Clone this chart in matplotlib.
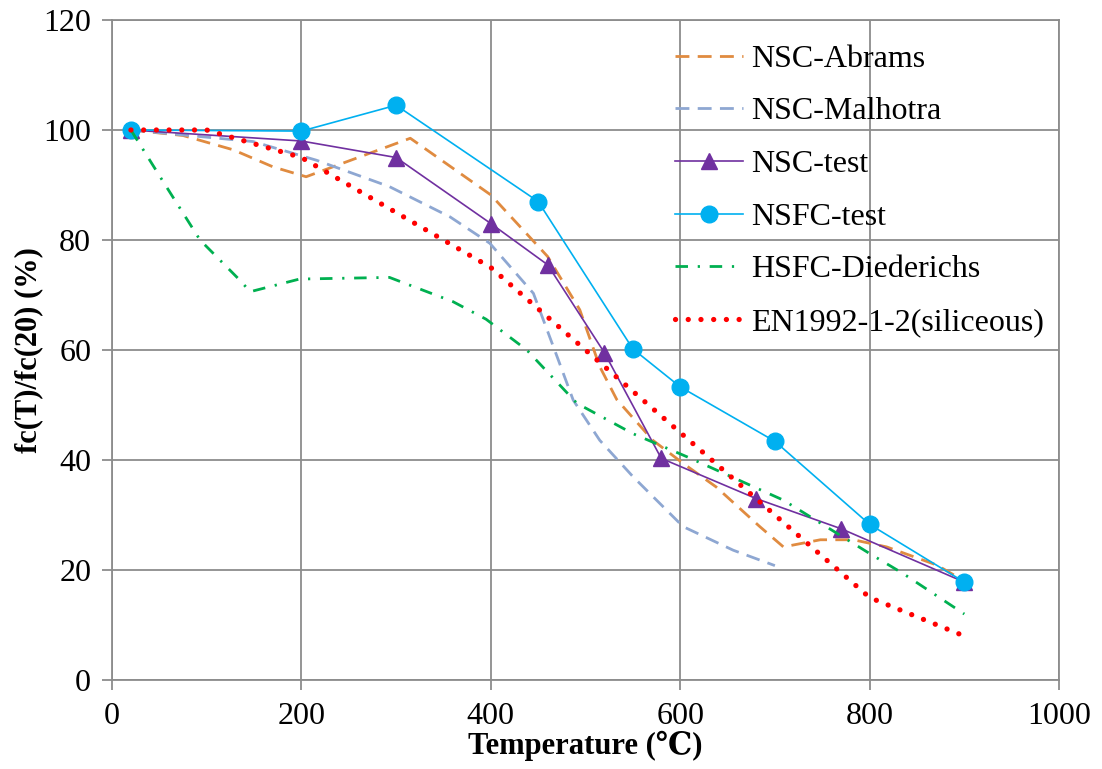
import matplotlib
matplotlib.use("Agg")
import matplotlib.pyplot as plt

plt.rcParams['font.family'] = ['Liberation Serif', 'DejaVu Serif']

# NSC-Abrams
abrams_t = [20, 75, 128, 170, 205, 315, 400, 460, 494, 515, 533, 571, 603, 638, 684, 709, 748, 783, 818, 871, 900]
abrams_v = [100, 99, 96.4, 93.3, 91.5, 98.5, 88.2, 77, 67.3, 57, 51, 43.6, 39.4, 35.1, 27.9, 24.2, 25.5, 25.5, 24.2, 20.9, 18]

# NSC-Malhotra
malhotra_t = [20, 149, 216, 293, 357, 399, 445, 470, 487, 515, 550, 603, 656, 700]
malhotra_v = [100, 97.9, 94.5, 89.7, 84.2, 79.4, 70.3, 58.8, 50.9, 43.6, 37, 27.9, 23.6, 20.8]

# NSC-test
nsc_t = [20, 200, 300, 400, 460, 520, 580, 680, 770, 900]
nsc_v = [100, 98, 95, 83, 75.5, 59.5, 40.3, 33, 27.5, 17.8]

# NSFC-test
nsfc_t = [20, 200, 300, 450, 550, 600, 700, 800, 900]
nsfc_v = [100, 99.8, 104.5, 87, 60.2, 53.3, 43.4, 28.3, 17.8]

# HSFC-Diederichs
died_t = [20, 53, 93, 135, 146, 198, 293, 360, 395, 438, 491, 550, 607, 709, 800, 835, 900]
died_v = [100, 90.9, 80, 72.7, 70.6, 72.9, 73.2, 68.8, 65.6, 60, 50.3, 44.8, 40.6, 32.7, 23, 19.4, 12]

# EN1992-1-2 (siliceous)
en_t = [20, 100, 200, 300, 400, 500, 600, 700, 800, 900]
en_v = [100, 100, 95, 85, 75, 60, 45, 30, 15, 8]

fig = plt.figure(figsize=(11.02, 7.69), dpi=100)
ax = fig.add_axes([0.1016, 0.1157, 0.8594, 0.8583])

ax.plot(abrams_t, abrams_v, color='#E08B40', lw=2.0, ls=(0, (5, 3)), label='NSC-Abrams')
ax.plot(malhotra_t, malhotra_v, color='#8EA7D2', lw=2.0, ls=(0, (5, 3)), label='NSC-Malhotra')
ax.plot(nsc_t, nsc_v, color='#7030A0', lw=1.2, marker='^', ms=11, label='NSC-test')
ax.plot(nsfc_t, nsfc_v, color='#00B0F0', lw=1.2, marker='o', ms=12, label='NSFC-test')
ax.plot(died_t, died_v, color='#00B050', lw=2.0, ls=(0, (4.5, 3.5, 0.8, 3.5)), label='HSFC-Diederichs')
ax.plot(en_t, en_v, color='#FF0000', lw=3.8, ls=(0, (0.01, 2.4)), dash_capstyle='round',
        label='EN1992-1-2(siliceous)')

ax.set_xlim(0, 1000)
ax.set_ylim(0, 120)
ax.set_xticks(range(0, 1001, 200))
ax.set_yticks(range(0, 121, 20))
ax.grid(True, color='#8C8C8C', lw=1.3)
for s in ax.spines.values():
    s.set_color('#8C8C8C')
    s.set_linewidth(1.3)
ax.tick_params(colors='#8C8C8C', labelcolor='black', labelsize=23, length=7, width=1.3)
ax.tick_params(axis='x', pad=9)
ax.tick_params(axis='y', pad=8)
ax.set_xlabel('Temperature (℃)', fontsize=22, fontweight='bold', labelpad=0)
ax.set_ylabel('fc(T)/fc(20) (%)', fontsize=22, fontweight='bold', labelpad=0)

ax.legend(loc='upper left', bbox_to_anchor=(0.594, 0.963), frameon=False, fontsize=23,
          labelspacing=0.73, handlelength=2.13, handletextpad=0.27, borderpad=0, borderaxespad=0)

fig.savefig('out.png', dpi=100)
